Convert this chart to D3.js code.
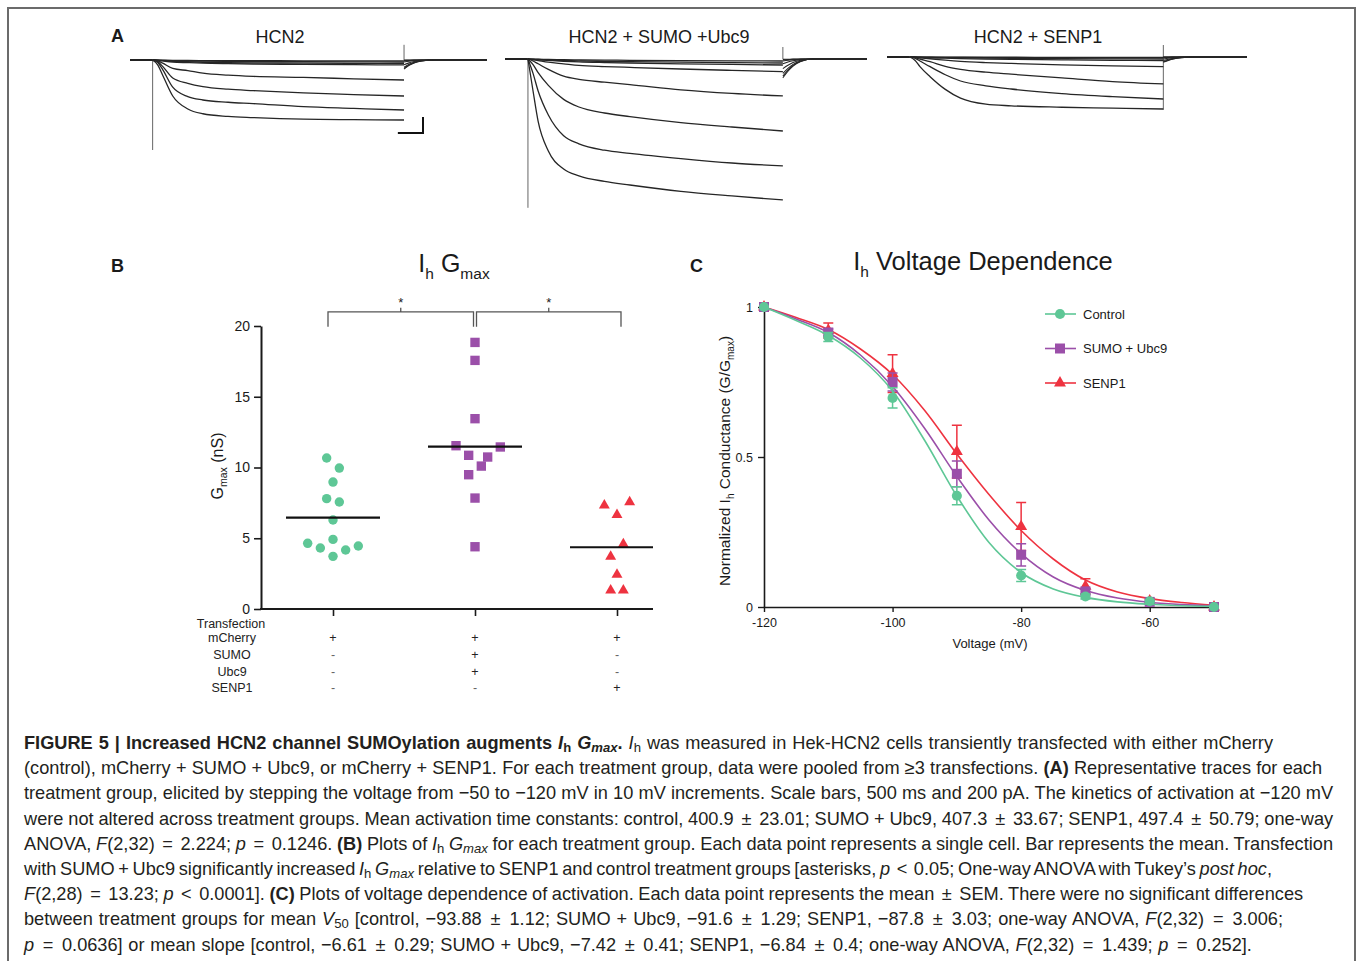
<!DOCTYPE html>
<html>
<head>
<meta charset="utf-8">
<script src="https://cdn.jsdelivr.net/npm/d3@7"></script>
<style>
  body { margin: 0; background: #fff; }
  #wrap { position: relative; width: 1357px; height: 961px; overflow: hidden; }
  svg { position: absolute; left: 0; top: 0; font-family: "Liberation Sans", Arial, sans-serif; }
  #caption {
    position: absolute; left: 24px; top: 731px;
    font-family: "Liberation Sans", Arial, sans-serif;
    font-size: 18.2px; line-height: 25.2px; color: #231f20; white-space: nowrap;
  }
  #caption sub { font-size: 0.72em; vertical-align: -0.25em; line-height: 0; }
  #caption .op { padding: 0 0.16em; }
</style>
</head>
<body>
<div id="wrap">
  <svg id="fig" width="1357" height="961"></svg>
  <div id="caption"></div>
</div>
<script>
// ---------- A: representative traces (pA), steps -50 .. -120 mV ----------
var stepVoltages = [-50, -60, -70, -80, -90, -100, -110, -120];
var traceTimes = [0, 100, 200, 400, 700, 1000, 1500, 2000, 3000, 4000, 5000];
var tailTimes = [0, 100, 200, 350, 600];

var hcn2Traces = [
  [0, -1, -2, -4, -6, -7, -8, -9, -10, -11, -12],
  [0, -2, -5, -9, -12, -15, -17, -19, -22, -24, -25],
  [0, -3, -8, -16, -22, -28, -32, -35, -39, -42, -44],
  [0, -5, -12, -25, -33, -40, -46, -50, -55, -59, -62],
  [0, -10, -40, -105, -133, -165, -190, -205, -218, -235, -250],
  [0, -20, -80, -225, -292, -333, -365, -383, -412, -432, -450],
  [0, -30, -120, -340, -458, -500, -528, -545, -584, -605, -625],
  [0, -60, -190, -450, -612, -672, -705, -720, -740, -746, -750]
];
var hcn2Tails = [
  [-2, -1, -1, 0, 0], [-6, -4, -2, -1, 0], [-12, -7, -4, -1, 0], [-25, -15, -8, -3, 0],
  [-60, -36, -19, -6, 0], [-90, -54, -29, -9, 0], [-105, -63, -34, -11, 0], [-112, -67, -36, -11, 0]
];

var sumoTraces = [
  [0, -2, -3, -6, -9, -12, -14, -16, -20, -23, -25],
  [0, -3, -6, -12, -18, -24, -29, -33, -40, -45, -50],
  [0, -5, -10, -18, -28, -36, -44, -50, -60, -68, -75],
  [0, -10, -20, -40, -60, -80, -95, -105, -125, -142, -158],
  [0, -25, -60, -130, -215, -255, -290, -320, -385, -430, -462],
  [0, -70, -170, -330, -505, -600, -675, -720, -795, -850, -900],
  [0, -180, -400, -700, -960, -1060, -1140, -1180, -1245, -1300, -1337],
  [0, -400, -780, -1150, -1375, -1460, -1530, -1575, -1655, -1712, -1762]
];
var sumoTails = [
  [-5, -3, -2, -1, 0], [-12, -8, -4, -2, 0], [-25, -16, -9, -3, 0], [-60, -38, -22, -8, 0],
  [-120, -78, -45, -16, 0], [-180, -117, -67, -24, 0], [-215, -140, -80, -28, 0], [-235, -153, -88, -31, 0]
];

var senp1Traces = [
  [0, 0, -1, -1, -2, -2, -3, -3, -4, -4, -5],
  [0, -1, -2, -3, -4, -5, -7, -8, -9, -11, -12],
  [0, -1, -3, -6, -9, -12, -15, -17, -20, -23, -25],
  [0, -2, -5, -10, -15, -20, -26, -30, -36, -41, -45],
  [0, -4, -10, -22, -40, -55, -70, -80, -98, -112, -121],
  [0, -8, -25, -58, -118, -155, -190, -215, -262, -308, -337],
  [0, -15, -50, -121, -222, -300, -360, -400, -458, -496, -525],
  [0, -40, -120, -246, -405, -515, -590, -610, -628, -640, -650]
];
var senp1Tails = [
  [-1, -1, 0, 0, 0], [-2, -1, -1, 0, 0], [-5, -3, -2, -1, 0], [-10, -6, -4, -1, 0],
  [-25, -16, -9, -3, 0], [-45, -29, -17, -6, 0], [-58, -38, -22, -8, 0], [-65, -42, -24, -9, 0]
];

// capacitive transients (pA) at step on / off
var spikeOnset = [-1125, -1860, 0];
var spikeOffUp = [190, 150, 150];
var spikeOffDown = [0, 0, -660];
var scaleBarMs = 500;
var scaleBarPa = 200;

// ---------- B: Ih Gmax (nS) per cell ----------
var groups = ['control', 'sumo', 'senp1'];
var gmaxControl = [10.67, 9.96, 8.97, 7.8, 7.56, 6.29, 4.64, 4.92, 4.45, 4.31, 4.17, 3.72];
var jitterControl = [-1, 1, 0, -1, 1, 0, -4, 0, 4, -2, 2, 0];
var gmaxSumo = [18.84, 17.57, 13.45, 11.54, 11.45, 10.86, 10.74, 10.1, 9.49, 7.84, 4.4];
var jitterSumo = [0, 0, 0, -3, 4, -1, 2, 1, -1, 0, 0];
var gmaxSenp1 = [7.32, 7.56, 6.66, 4.59, 3.7, 2.43, 1.32, 1.32];
var jitterSenp1 = [-2, 2, 0, 1, -1, 0, -1, 1];
var gmaxTicks = [0, 5, 10, 15, 20];
var sigPairs = [[0, 1], [1, 2]];
var transfectionRows = ['mCherry', 'SUMO', 'Ubc9', 'SENP1'];
var transfectionMarks = [['+', '+', '+'], ['-', '+', '-'], ['-', '+', '-'], ['-', '-', '+']];

// ---------- C: voltage dependence ----------
var voltages = [-120, -110, -100, -90, -80, -70, -60, -50];
var gControl = [1.0, 0.9, 0.697, 0.371, 0.105, 0.035, 0.019, 0.0];
var semControl = [0, 0.015, 0.034, 0.03, 0.02, 0.008, 0.004, 0];
var gSumo = [1.0, 0.915, 0.75, 0.444, 0.174, 0.052, 0.017, 0.0];
var semSumo = [0, 0.012, 0.03, 0.043, 0.037, 0.01, 0.004, 0];
var gSenp1 = [1.0, 0.922, 0.778, 0.518, 0.268, 0.069, 0.02, 0.0];
var semSenp1 = [0, 0.025, 0.063, 0.088, 0.08, 0.025, 0.006, 0];
var fitVoltages = [-120, -115, -110, -105, -100, -95, -90, -85, -80, -75, -70, -65, -60, -55, -50];
var fitControl = [1.0, 0.955, 0.905, 0.83, 0.72, 0.555, 0.37, 0.215, 0.115, 0.06, 0.032, 0.017, 0.009, 0.004, 0.002];
var fitSumo = [1.0, 0.96, 0.915, 0.84, 0.735, 0.595, 0.435, 0.29, 0.178, 0.1, 0.055, 0.03, 0.016, 0.008, 0.004];
var fitSenp1 = [1.0, 0.965, 0.925, 0.86, 0.775, 0.655, 0.51, 0.375, 0.255, 0.16, 0.09, 0.05, 0.028, 0.015, 0.006];
var seriesNames = ['Control', 'SUMO + Ubc9', 'SENP1'];
var voltageTicks = [-120, -100, -80, -60];
var conductanceTicks = [0, 0.5, 1];

// ---------- caption ----------
var captionLines = [
  '<b>FIGURE 5 | Increased HCN2 channel SUMOylation augments <i>I</i><sub>h</sub> <i>G<sub>max</sub></i>.</b> <i>I</i><sub>h</sub> was measured in Hek-HCN2 cells transiently transfected with either mCherry',
  '(control), mCherry + SUMO + Ubc9, or mCherry + SENP1. For each treatment group, data were pooled from \u22653 transfections. <b>(A)</b> Representative traces for each',
  'treatment group, elicited by stepping the voltage from \u221250 to \u2212120 mV in 10 mV increments. Scale bars, 500 ms and 200 pA. The kinetics of activation at \u2212120 mV',
  'were not altered across treatment groups. Mean activation time constants: control, 400.9 \u00b1 23.01; SUMO + Ubc9, 407.3 \u00b1 33.67; SENP1, 497.4 \u00b1 50.79; one-way',
  'ANOVA, <i>F</i>(2,32) = 2.224; <i>p</i> = 0.1246. <b>(B)</b> Plots of <i>I</i><sub>h</sub> <i>G<sub>max</sub></i> for each treatment group. Each data point represents a single cell. Bar represents the mean. Transfection',
  'with SUMO + Ubc9 significantly increased <i>I</i><sub>h</sub> <i>G<sub>max</sub></i> relative to SENP1 and control treatment groups [asterisks, <i>p</i> &lt; 0.05; One-way ANOVA with Tukey\u2019s <i>post hoc</i>,',
  '<i>F</i>(2,28) = 13.23; <i>p</i> &lt; 0.0001]. <b>(C)</b> Plots of voltage dependence of activation. Each data point represents the mean \u00b1 SEM. There were no significant differences',
  'between treatment groups for mean <i>V</i><sub>50</sub> [control, \u221293.88 \u00b1 1.12; SUMO + Ubc9, \u221291.6 \u00b1 1.29; SENP1, \u221287.8 \u00b1 3.03; one-way ANOVA, <i>F</i>(2,32) = 3.006;',
  '<i>p</i> = 0.0636] or mean slope [control, \u22126.61 \u00b1 0.29; SUMO + Ubc9, \u22127.42 \u00b1 0.41; SENP1, \u22126.84 \u00b1 0.4; one-way ANOVA, <i>F</i>(2,32) = 1.439; <i>p</i> = 0.252].'
];
// right end (px) of each caption line in the layout
var captionLineEnds = [1273, 1322, 1333, 1333, 1333, 1272, 1303, 1283, 1252];

var ink = '#1a1a1a';
var colors = ['#5ec796', '#9b4fa9', '#ee3340'];
var symbols = [d3.symbolCircle, d3.symbolSquare, d3.symbolTriangle];

var svg = d3.select('#fig');

// frame
svg.append('rect')
  .attr('x', 8).attr('y', 8).attr('width', 1347).attr('height', 1000)
  .attr('fill', 'none').attr('stroke', '#6b6b6b').attr('stroke-width', 2);

function panelLetter(txt, x, y) {
  svg.append('text').attr('x', x).attr('y', y)
    .attr('font-size', 18).attr('font-weight', 'bold').attr('fill', ink)
    .text(txt);
}
panelLetter('A', 111, 42);
panelLetter('B', 111, 272);
panelLetter('C', 690, 272);

// ===================== Panel A =====================
var recStart = -450, recEnd = 6650, stepEnd = 5000;

var panelsA = [
  { title: 'HCN2', cx: 280, x0: 130, x1: 487, y0: 60, traces: hcn2Traces, tails: hcn2Tails },
  { title: 'HCN2 + SUMO +Ubc9', cx: 659, x0: 505, x1: 867, y0: 59, traces: sumoTraces, tails: sumoTails },
  { title: 'HCN2 + SENP1', cx: 1038, x0: 887, x1: 1247, y0: 57, traces: senp1Traces, tails: senp1Tails }
];

panelsA.forEach(function (p, k) {
  var x = d3.scaleLinear().domain([recStart, recEnd]).range([p.x0, p.x1]);
  var y = d3.scaleLinear().domain([0, -2000]).range([p.y0, p.y0 + 160]);
  var line = d3.line()
    .x(function (d) { return x(d[0]); })
    .y(function (d) { return y(d[1]); })
    .curve(d3.curveMonotoneX);

  var g = svg.append('g').attr('class', 'traces');

  svg.append('text')
    .attr('x', p.cx).attr('y', 43)
    .attr('text-anchor', 'middle').attr('font-size', 18).attr('fill', ink)
    .text(p.title);

  // capacitive transients
  g.append('line')
    .attr('x1', x(0)).attr('x2', x(0))
    .attr('y1', y(0)).attr('y2', y(spikeOnset[k]))
    .attr('stroke', '#555').attr('stroke-width', 0.9);
  g.append('line')
    .attr('x1', x(stepEnd)).attr('x2', x(stepEnd))
    .attr('y1', y(spikeOffUp[k])).attr('y2', y(spikeOffDown[k]))
    .attr('stroke', '#555').attr('stroke-width', 0.9);

  // holding baseline
  g.append('path')
    .attr('d', line([[recStart, 0], [0, 0]]))
    .attr('fill', 'none').attr('stroke', '#222').attr('stroke-width', 2);

  p.traces.forEach(function (tr, i) {
    var pts = traceTimes.map(function (t, j) { return [t, tr[j]]; });
    g.append('path')
      .attr('d', line(pts))
      .attr('fill', 'none').attr('stroke', '#262626').attr('stroke-width', 1.3);

    var tail = tailTimes.map(function (t, j) { return [stepEnd + t, p.tails[i][j]]; });
    tail.push([recEnd, 0]);
    g.append('path')
      .attr('d', line(tail))
      .attr('fill', 'none').attr('stroke', '#262626').attr('stroke-width', 1.1);
  });

  if (k === 0) {
    // scale bars: 500 ms, 200 pA
    var bx = 423, by = 133;
    var w = x(scaleBarMs) - x(0);
    var h = y(-scaleBarPa) - y(0);
    svg.append('path')
      .attr('d', 'M' + (bx - w) + ',' + by + 'H' + bx + 'V' + (by - h))
      .attr('fill', 'none').attr('stroke', '#111').attr('stroke-width', 2);
  }
});

// ===================== Panel B =====================
var yB = d3.scaleLinear().domain([0, 20]).range([609, 326]);
var xB = d3.scalePoint().domain(groups).range([333, 617]);
var jitterUnit = 6.33;
var axisEndB = 653;

var gB = svg.append('g').attr('class', 'panel-b');

gB.append('g')
  .attr('transform', 'translate(261,0)')
  .call(d3.axisLeft(yB).tickValues(gmaxTicks).tickSize(7).tickSizeOuter(0).tickPadding(4))
  .call(function (a) {
    a.select('.domain').attr('stroke', ink).attr('stroke-width', 2);
    a.selectAll('.tick line').attr('stroke', ink).attr('stroke-width', 1.6);
    a.selectAll('text').attr('font-size', 14).attr('fill', ink).attr('font-family', null);
  });

gB.append('g')
  .attr('transform', 'translate(0,609)')
  .call(d3.axisBottom(xB).tickSize(7).tickSizeOuter(0).tickFormat(''))
  .call(function (a) {
    a.select('.domain').remove();
    a.selectAll('.tick line').attr('stroke', ink).attr('stroke-width', 1.6);
  });
gB.append('line')
  .attr('x1', 260).attr('x2', axisEndB).attr('y1', 609).attr('y2', 609)
  .attr('stroke', ink).attr('stroke-width', 2);

// title
var tB = gB.append('text').attr('x', 454).attr('y', 272)
  .attr('text-anchor', 'middle').attr('font-size', 25).attr('fill', ink);
tB.append('tspan').text('I');
tB.append('tspan').attr('font-size', 15.5).attr('dy', 7).text('h');
tB.append('tspan').attr('dy', -7).text(' G');
tB.append('tspan').attr('font-size', 15.5).attr('dy', 7).text('max');

// y label
var lB = gB.append('text')
  .attr('transform', 'translate(223,466) rotate(-90)')
  .attr('text-anchor', 'middle').attr('font-size', 16).attr('fill', ink);
lB.append('tspan').text('G');
lB.append('tspan').attr('font-size', 10.5).attr('dy', 4).text('max');
lB.append('tspan').attr('dy', -4).text(' (nS)');

var pointsB = [
  { vals: gmaxControl, jit: jitterControl },
  { vals: gmaxSumo, jit: jitterSumo },
  { vals: gmaxSenp1, jit: jitterSenp1 }
];
var symSizeB = [70, 88, 52];

pointsB.forEach(function (s, k) {
  var cx = xB(groups[k]);
  gB.append('g').selectAll('path')
    .data(s.vals)
    .enter().append('path')
    .attr('d', d3.symbol().type(symbols[k]).size(symSizeB[k]))
    .attr('transform', function (d, i) {
      return 'translate(' + (cx + s.jit[i] * jitterUnit) + ',' + yB(d) + ')';
    })
    .attr('fill', colors[k]);

  var m = d3.mean(s.vals);
  gB.append('line')
    .attr('x1', cx - 47).attr('x2', Math.min(cx + 47, axisEndB))
    .attr('y1', yB(m)).attr('y2', yB(m))
    .attr('stroke', '#111').attr('stroke-width', 2.2);
});

// significance brackets
var legTop = yB(21), legBottom = yB(19.95);
sigPairs.forEach(function (pr, i) {
  var xa = xB(groups[pr[0]]) + (i === 0 ? -5 : 1.5);
  var xb = xB(groups[pr[1]]) + (i === 0 ? -1.5 : 4);
  gB.append('path')
    .attr('d', 'M' + xa + ',' + legBottom + 'V' + legTop + 'H' + xb + 'V' + legBottom +
      'M' + ((xa + xb) / 2) + ',' + legTop + 'V' + (legTop - 4))
    .attr('fill', 'none').attr('stroke', '#555').attr('stroke-width', 1.3);
  gB.append('text')
    .attr('x', (xa + xb) / 2).attr('y', legTop - 5)
    .attr('text-anchor', 'middle').attr('font-size', 13).attr('fill', ink)
    .text('*');
});

// transfection table
gB.append('text')
  .attr('x', 231).attr('y', 628)
  .attr('text-anchor', 'middle').attr('font-size', 12.5).attr('fill', '#222')
  .text('Transfection');
transfectionRows.forEach(function (r, i) {
  var yy = 642 + i * 16.8;
  gB.append('text')
    .attr('x', 232).attr('y', yy)
    .attr('text-anchor', 'middle').attr('font-size', 12.5).attr('fill', '#222')
    .text(r);
  transfectionMarks[i].forEach(function (mk, j) {
    gB.append('text')
      .attr('x', xB(groups[j])).attr('y', yy)
      .attr('text-anchor', 'middle').attr('font-size', 12.5)
      .attr('fill', mk === '+' ? '#222' : '#666')
      .text(mk);
  });
});

// ===================== Panel C =====================
var xC = d3.scaleLinear().domain([-120, -50]).range([764, 1214]);
var yC = d3.scaleLinear().domain([0, 1]).range([607, 307]);
var gC = svg.append('g').attr('class', 'panel-c');

gC.append('g')
  .attr('transform', 'translate(764,0)')
  .call(d3.axisLeft(yC).tickValues(conductanceTicks)
    .tickFormat(function (d) { return String(d); })
    .tickSize(6).tickSizeOuter(0).tickPadding(5))
  .call(function (a) {
    a.select('.domain').attr('stroke', ink).attr('stroke-width', 1.6);
    a.selectAll('.tick line').attr('stroke', ink).attr('stroke-width', 1.4);
    a.selectAll('text').attr('font-size', 12.5).attr('fill', ink).attr('font-family', null);
  });
gC.append('g')
  .attr('transform', 'translate(0,607)')
  .call(d3.axisBottom(xC).tickValues(voltageTicks)
    .tickFormat(function (d) { return String(d); })
    .tickSize(5).tickSizeOuter(0).tickPadding(6))
  .call(function (a) {
    a.select('.domain').attr('stroke', ink).attr('stroke-width', 1.6);
    a.selectAll('.tick line').attr('stroke', ink).attr('stroke-width', 1.4);
    a.selectAll('text').attr('font-size', 12.5).attr('fill', ink).attr('font-family', null);
  });

gC.append('text')
  .attr('x', 990).attr('y', 648)
  .attr('text-anchor', 'middle').attr('font-size', 13).attr('fill', ink)
  .text('Voltage (mV)');

var lC = gC.append('text')
  .attr('transform', 'translate(730,461) rotate(-90)')
  .attr('text-anchor', 'middle').attr('font-size', 15.5).attr('fill', ink);
lC.append('tspan').text('Normalized I');
lC.append('tspan').attr('font-size', 10).attr('dy', 4).text('h');
lC.append('tspan').attr('dy', -4).text(' Conductance (G/G');
lC.append('tspan').attr('font-size', 10).attr('dy', 4).text('max');
lC.append('tspan').attr('dy', -4).text(')');

var tC = gC.append('text').attr('x', 983).attr('y', 270)
  .attr('text-anchor', 'middle').attr('font-size', 25.5).attr('fill', ink);
tC.append('tspan').text('I');
tC.append('tspan').attr('font-size', 15.5).attr('dy', 7).text('h');
tC.append('tspan').attr('dy', -7).text(' Voltage Dependence');

var seriesC = [
  { g: gControl, sem: semControl, fit: fitControl },
  { g: gSumo, sem: semSumo, fit: fitSumo },
  { g: gSenp1, sem: semSenp1, fit: fitSenp1 }
];
var symSizeC = [80, 100, 62];

var fitLine = d3.line()
  .x(function (d) { return xC(d[0]); })
  .y(function (d) { return yC(d[1]); })
  .curve(d3.curveMonotoneX);

// draw SENP1 first, control last (on top)
[2, 1, 0].forEach(function (k) {
  var s = seriesC[k];
  var sg = gC.append('g');
  sg.append('path')
    .attr('d', fitLine(fitVoltages.map(function (v, i) { return [v, s.fit[i]]; })))
    .attr('fill', 'none').attr('stroke', colors[k]).attr('stroke-width', 1.6);

  voltages.forEach(function (v, i) {
    if (!s.sem[i]) return;
    var xx = xC(v), hi = yC(s.g[i] + s.sem[i]), lo = yC(s.g[i] - s.sem[i]);
    sg.append('path')
      .attr('d', 'M' + xx + ',' + hi + 'V' + lo +
        'M' + (xx - 5) + ',' + hi + 'H' + (xx + 5) +
        'M' + (xx - 5) + ',' + lo + 'H' + (xx + 5))
      .attr('fill', 'none').attr('stroke', colors[k]).attr('stroke-width', 1.5);
  });

  sg.selectAll('path.pt')
    .data(s.g)
    .enter().append('path')
    .attr('class', 'pt')
    .attr('d', d3.symbol().type(symbols[k]).size(symSizeC[k]))
    .attr('transform', function (d, i) { return 'translate(' + xC(voltages[i]) + ',' + yC(d) + ')'; })
    .attr('fill', colors[k]);
});

// legend
seriesNames.forEach(function (name, k) {
  var ly = 314 + k * 34.5;
  gC.append('line')
    .attr('x1', 1045).attr('x2', 1076).attr('y1', ly).attr('y2', ly)
    .attr('stroke', colors[k]).attr('stroke-width', 1.6);
  gC.append('path')
    .attr('d', d3.symbol().type(symbols[k]).size(symSizeC[k]))
    .attr('transform', 'translate(1060,' + ly + ')')
    .attr('fill', colors[k]);
  gC.append('text')
    .attr('x', 1083).attr('y', ly + 4.5)
    .attr('font-size', 13).attr('fill', ink)
    .text(name);
});

// ===================== caption =====================
var capLeft = 24;
d3.select('#caption').selectAll('div')
  .data(captionLines)
  .enter().append('div')
  .append('span')
  .html(function (d) {
    // math operators get a little extra room, like the typeset original
    return d.replace(/ (=|\u00b1|&lt;) /g, ' <span class="op">$1</span> ');
  })
  .each(function (d, i) {
    // stretch / squeeze word spacing so the line ends where it does in the layout
    var w = this.getBoundingClientRect().width;
    var spaces = (this.textContent.match(/ /g) || []).length;
    var extra = (captionLineEnds[i] - capLeft - w) / spaces;
    d3.select(this).style('word-spacing', extra.toFixed(2) + 'px');
  });
</script>
</body>
</html>
